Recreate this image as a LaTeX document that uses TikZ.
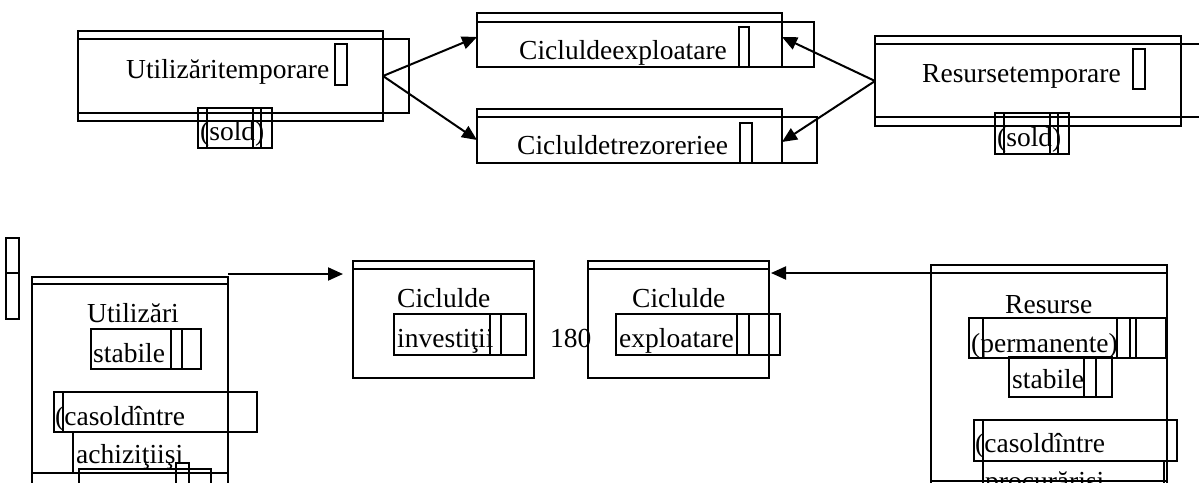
\documentclass[tikz,border=0pt]{standalone}
\usepackage{fontspec}
\setmainfont{Liberation Serif}
\usetikzlibrary{arrows.meta,calc}
\tikzstyle{frame} = [draw, line width=2pt, inner sep=0pt, outer sep=0pt, anchor=north west]
\tikzstyle{cell} = [draw, line width=1.6pt]
\tikzstyle{lbl} = [inner sep=0pt, anchor=base west, font=\fontsize{27.5}{30}\selectfont]
\tikzstyle{flow} = [line width=2pt, -{Triangle[length=15pt,width=13pt]}]

\begin{document}
\begin{tikzpicture}[x=1pt, y=-1pt]
\useasboundingbox (0,0) rectangle (1199,482);
\clip (0,0) rectangle (1199,482);

% Top left: Utilizari temporare
\node[frame, minimum width=305, minimum height=90] (utiltemp) at (78,31) {};
\node[frame, minimum width=331, minimum height=74] (utiltempin) at (78,39) {};
\draw[cell] (335,44) rectangle (347,85);
\node[lbl] (utiltemptxt) at (126,78) {Utilizăritemporare};
\draw[cell] (198,108) rectangle (261,148);
\draw[cell] (207,108) rectangle (253,148);
\draw[cell] (253,108) rectangle (272,148);
\node[lbl] (sold1) at (200,140) {(sold)};

% Top middle: Ciclul de exploatare
\node[frame, minimum width=305, minimum height=54] (cicexpl) at (477,13) {};
\node[frame, minimum width=337, minimum height=45] (cicexplin) at (477,22) {};
\draw[cell] (739,27) rectangle (749,67);
\node[lbl] (cicexpltxt) at (519,59) {Cicluldeexploatare};

% Top middle: Ciclul de trezorerie
\node[frame, minimum width=305, minimum height=54] (cictrez) at (477,109) {};
\node[frame, minimum width=340, minimum height=46] (cictrezin) at (477,117) {};
\draw[cell] (740,123) rectangle (752,163);
\node[lbl] (cictreztxt) at (517,154) {Cicluldetrezoreriee};

% Top right: Resurse temporare
\node[frame, minimum width=306, minimum height=90] (restemp) at (875,36) {};
\node[frame, minimum width=340, minimum height=73] (restempin) at (875,44) {};
\draw[cell] (1133,49) rectangle (1145,89);
\node[lbl] (restemptxt) at (922,82) {Resursetemporare};
\draw[cell] (995,113) rectangle (1058,154);
\draw[cell] (1004,113) rectangle (1050,154);
\draw[cell] (1050,113) rectangle (1069,154);
\node[lbl] (sold2) at (997,146) {(sold)};

% Top arrows
\draw[flow] (utiltemp.east) -- ([yshift=3pt]cicexpl.west);
\draw[flow] (utiltemp.east) -- (cictrezin.west);
\draw[flow] (restemp.west) -- ([yshift=3pt]cicexpl.east);
\draw[flow] (restemp.west) -- ([yshift=-6pt]cictrez.east);

% Bottom left: Utilizari stabile
\draw[cell] (6,238) rectangle (19,273);
\draw[cell] (6,273) rectangle (19,319);
\node[frame, minimum width=196, minimum height=220] (utilst) at (32,277) {};
\node[frame, minimum width=196, minimum height=189] (utilstin) at (32,284) {};
\node[lbl] (utilsttxt) at (87,322) {Utilizări};
\draw[cell] (91,329) rectangle (182,369);
\draw[cell] (171,329) rectangle (201,369);
\node[lbl] (stab1) at (93,362) {stabile};
\draw[cell] (54,392) rectangle (257,432);
\draw[cell] (63,392) rectangle (257,432);
\node[lbl] (casold1) at (55,425) {(casoldîntre};
\draw[cell] (73,432) rectangle (228,473);
\node[lbl] (achiz) at (76,463) {achiziţiişi};
\draw[cell] (79,469) rectangle (211,500);
\draw[cell] (176,463) rectangle (189,500);

% Bottom middle: Ciclul de investitii
\node[frame, minimum width=181, minimum height=117] (cicinv) at (353,261) {};
\node[frame, minimum width=181, minimum height=109] (cicinvin) at (353,269) {};
\node[lbl] (cicinvtxt) at (397,307) {Ciclulde};
\draw[cell] (394,314) rectangle (501,355);
\draw[cell] (490,314) rectangle (526,355);
\node[lbl] (invest) at (397,347) {investiţii};
\node[lbl] (pagenr) at (550,347) {180};

% Bottom middle: Ciclul de exploatare
\node[frame, minimum width=181, minimum height=117] (cicexp) at (588,261) {};
\node[frame, minimum width=181, minimum height=109] (cicexpin) at (588,269) {};
\node[lbl] (cicexptxt) at (632,307) {Ciclulde};
\draw[cell] (616,314) rectangle (749,355);
\draw[cell] (737,314) rectangle (780,355);
\node[lbl] (exploat) at (619,347) {exploatare};

% Bottom right: Resurse permanente
\node[frame, minimum width=236, minimum height=216] (resperm) at (931,265) {};
\node[frame, minimum width=236, minimum height=230] (respermin) at (931,273) {};
\node[lbl] (respermtxt) at (1005,313) {Resurse};
\draw[cell] (969,318) rectangle (1166,358);
\draw[cell] (983,318) rectangle (1117,358);
\draw[cell] (1130,318) rectangle (1136,358);
\node[lbl] (perm) at (971,352) {(permanente)};
\draw[cell] (1009,357) rectangle (1096,397);
\draw[cell] (1084,357) rectangle (1112,397);
\node[lbl] (stab2) at (1012,388) {stabile};
\draw[cell] (974,420) rectangle (1177,461);
\draw[cell] (983,420) rectangle (1167,461);
\node[lbl] (casold2) at (975,452) {(casoldîntre};
\draw[cell] (983,461) rectangle (1164,500);
\node[lbl] (procur) at (985,490) {procurărişi};

% Bottom arrows
\draw[flow] ([yshift=3pt]utilst.north east) -- ([xshift=-10pt,yshift=3pt]cicinv.west |- utilst.north east);
\draw[flow] (respermin.north west) -- ([xshift=2pt]cicexp.east |- respermin.north west);

\end{tikzpicture}
\end{document}
